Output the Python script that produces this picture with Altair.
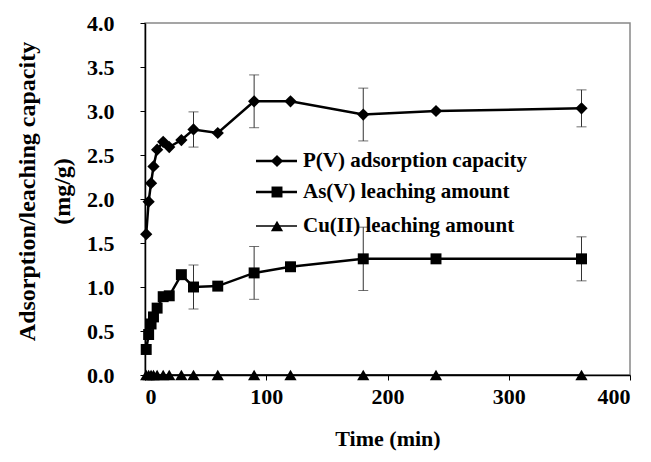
import altair as alt
import pandas as pd

# ---- data ----
time_min = [1, 3, 5, 7, 10, 15, 20, 30, 40, 60, 90, 120, 180, 240, 360]
p_ads = [1.60, 1.97, 2.18, 2.37, 2.56, 2.65, 2.59, 2.67, 2.79, 2.75, 3.11, 3.11, 2.96, 3.00, 3.03]
as_leach = [0.29, 0.46, 0.58, 0.66, 0.76, 0.89, 0.90, 1.14, 1.00, 1.01, 1.16, 1.23, 1.32, 1.32, 1.32]
cu_leach = [0.0, 0.0, 0.0, 0.0, 0.0, 0.0, 0.0, 0.0, 0.0, 0.0, 0.0, 0.0, 0.0, 0.0, 0.0]
p_err = [None, None, None, None, None, None, None, None, 0.20, None, 0.30, None, 0.30, None, 0.21]
as_err = [None, None, None, None, None, None, None, None, 0.25, None, 0.30, None, 0.36, None, 0.25]
cu_err = [None] * 15

series_names = ["P(V) adsorption capacity", "As(V)  leaching amount", "Cu(II) leaching amount"]
series_shapes = ["diamond", "square", "triangle-up"]
series_sizes = [150, 120, 150]
series_widths = [2.5, 2.5, 1.3]

rows = []
for name, vals, errs in zip(series_names, [p_ads, as_leach, cu_leach], [p_err, as_err, cu_err]):
    for t, v, e in zip(time_min, vals, errs):
        rows.append({"series": name, "time": t, "value": v, "err": e})
df = pd.DataFrame(rows)
err_df = df.dropna(subset=["err"]).copy()
err_df["lo"] = err_df["value"] - err_df["err"]
err_df["hi"] = err_df["value"] + err_df["err"]

FONT = "Liberation Serif"

xscale = alt.Scale(domain=[0, 400], nice=False)
yscale = alt.Scale(domain=[0, 4], nice=False)

x_enc = alt.X("time:Q", scale=xscale, axis=alt.Axis(
    values=[0, 100, 200, 300, 400], title="Time (min)", labelPadding=6,
    titleY=63, titleBaseline="middle"))
y_enc = alt.Y("value:Q", scale=yscale, axis=alt.Axis(
    values=[0, 0.5, 1, 1.5, 2, 2.5, 3, 3.5, 4], format=".1f",
    title=["Adsorption/leaching capacity", "(mg/g)"], labelPadding=26,
    titleX=-118, titleY=168, titleBaseline="middle", titleAlign="center",
    titleLineHeight=35, titleAngle=270, titleFontSize=24))

layers = []
# error bars
base_err = alt.Chart(err_df)
layers.append(base_err.mark_rule(color="#333", strokeWidth=1).encode(
    x=x_enc, y=alt.Y("lo:Q", scale=yscale), y2="hi:Q"))
layers.append(base_err.mark_tick(color="#333", orient="horizontal", size=10, thickness=1).encode(
    x="time:Q", y=alt.Y("lo:Q", scale=yscale)))
layers.append(base_err.mark_tick(color="#333", orient="horizontal", size=10, thickness=1).encode(
    x="time:Q", y=alt.Y("hi:Q", scale=yscale)))

for name, shp, sz, sw in zip(series_names, series_shapes, series_sizes, series_widths):
    base = alt.Chart(df).transform_filter(alt.datum.series == name)
    layers.append(base.mark_line(color="black", strokeWidth=sw).encode(x=x_enc, y=y_enc))
    layers.append(base.mark_point(shape=shp, size=sz, filled=True, color="black", opacity=1).encode(
        x="time:Q", y="value:Q"))

# manual legend
one = alt.InlineData(values=[{"k": 0}])
leg_y = [138, 169, 203]
for name, shp, sz, sw, ly in zip(series_names, series_shapes, series_sizes, series_widths, leg_y):
    layers.append(alt.Chart(one).mark_rule(color="black", strokeWidth=sw).encode(
        x=alt.value(111), x2=alt.value(152), y=alt.value(ly)))
    layers.append(alt.Chart(one).mark_point(shape=shp, size=sz, filled=True, color="black", opacity=1).encode(
        x=alt.value(132), y=alt.value(ly)))
    layers.append(alt.Chart(one).mark_text(align="left", baseline="middle", font=FONT,
                                           fontSize=21, fontWeight="bold", color="black").encode(
        x=alt.value(158), y=alt.value(ly), text=alt.value(name)))

chart = alt.layer(*layers).properties(
    width=485, height=352,
    autosize=alt.AutoSizeParams(type="none"),
    padding={"left": 137, "top": 15, "right": 12, "bottom": 84},
).configure_axis(
    labelFont=FONT, labelFontSize=22, labelFontWeight="bold", labelColor="black",
    titleFont=FONT, titleFontSize=22, titleFontWeight="bold", titleColor="black",
    domainColor="black", domainWidth=1.5, tickColor="black", tickWidth=1, tickSize=5,
    grid=False,
).configure_view(stroke="#888", strokeWidth=1.5)

chart.save("out.html", embed_options={"renderer": "svg", "actions": False})
